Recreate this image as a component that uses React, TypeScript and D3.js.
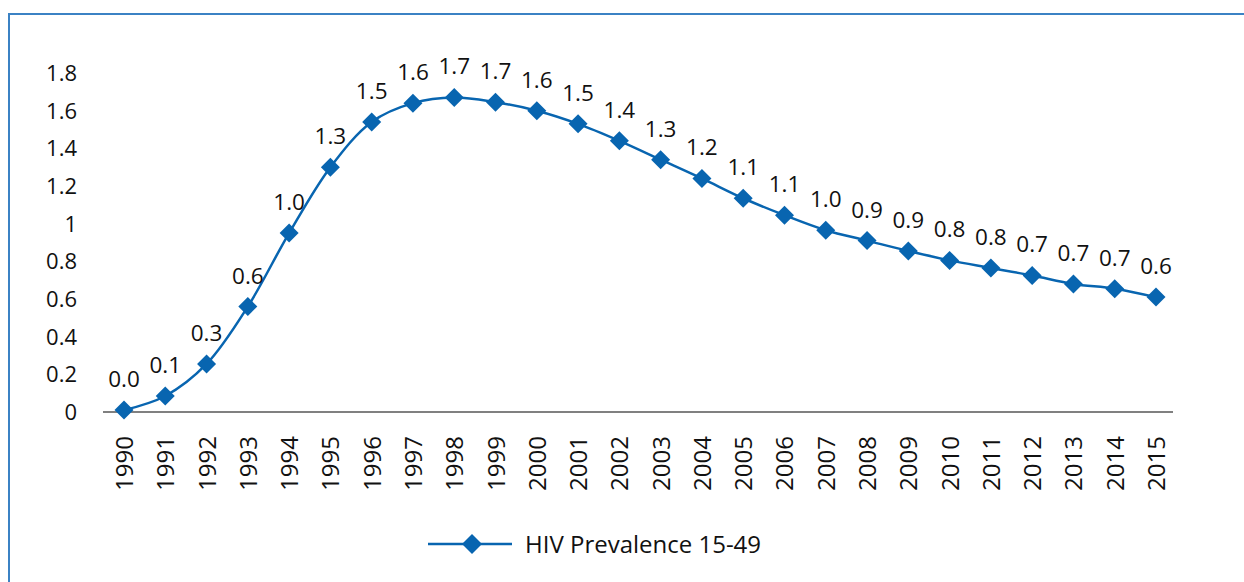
import React, { useEffect, useRef } from 'react';
import * as d3 from 'd3';

const years = ['1990','1991','1992','1993','1994','1995','1996','1997','1998','1999','2000','2001','2002','2003','2004','2005','2006','2007','2008','2009','2010','2011','2012','2013','2014','2015'];
const prevalence = [0.01,0.085,0.255,0.56,0.95,1.30,1.54,1.64,1.67,1.645,1.60,1.53,1.44,1.34,1.24,1.135,1.045,0.965,0.91,0.855,0.805,0.765,0.725,0.68,0.655,0.61];
const pointLabels = ['0.0','0.1','0.3','0.6','1.0','1.3','1.5','1.6','1.7','1.7','1.6','1.5','1.4','1.3','1.2','1.1','1.1','1.0','0.9','0.9','0.8','0.8','0.7','0.7','0.7','0.6'];
const yTicks = [0,0.2,0.4,0.6,0.8,1,1.2,1.4,1.6,1.8];
const seriesName = 'HIV Prevalence 15-49';

const W = 1244, H = 582;
const font = "'Open Sans', 'Noto Sans', sans-serif";
const blue = '#0865b0';

export default function App() {
  const ref = useRef<SVGSVGElement>(null);

  useEffect(() => {
    document.body.style.margin = '0';
    const svg = d3.select(ref.current);
    svg.selectAll('*').remove();

    // frame
    svg.append('rect')
      .attr('x', 9).attr('y', 14)
      .attr('width', W).attr('height', H)
      .attr('fill', 'none')
      .attr('stroke', '#3b82c4')
      .attr('stroke-width', 2);

    const x = d3.scalePoint<string>().domain(years).range([124, 1156]);
    const y = d3.scaleLinear().domain([0, 1.8]).range([412, 73]);

    // y tick labels
    svg.append('g').selectAll('text')
      .data(yTicks).enter().append('text')
      .attr('x', 77).attr('y', d => y(d) + 8)
      .attr('text-anchor', 'end')
      .attr('font-family', font).attr('font-size', 22)
      .attr('fill', '#111')
      .text(d => String(d));

    // x axis line
    svg.append('line')
      .attr('x1', 103).attr('x2', 1173)
      .attr('y1', y(0)).attr('y2', y(0))
      .attr('stroke', '#808080').attr('stroke-width', 2);

    // x labels rotated
    svg.append('g').selectAll('text')
      .data(years).enter().append('text')
      .attr('transform', d => `translate(${(x(d) as number) + 9},${436}) rotate(-90)`)
      .attr('text-anchor', 'end')
      .attr('font-family', font).attr('font-size', 24)
      .attr('fill', '#111')
      .text(d => d);

    // line
    const line = d3.line<number>()
      .x((d, i) => x(years[i]) as number)
      .y(d => y(d))
      .curve(d3.curveCatmullRom.alpha(0.5));

    svg.append('path')
      .datum(prevalence)
      .attr('d', line)
      .attr('fill', 'none')
      .attr('stroke', blue)
      .attr('stroke-width', 2.5);

    const diamond = (cx: number, cy: number, r: number) =>
      `M${cx},${cy - r}L${cx + r},${cy}L${cx},${cy + r}L${cx - r},${cy}Z`;

    svg.append('g').selectAll('path')
      .data(prevalence).enter().append('path')
      .attr('d', (d, i) => diamond(x(years[i]) as number, y(d), 9.5))
      .attr('fill', blue);

    // data labels
    svg.append('g').selectAll('text')
      .data(prevalence).enter().append('text')
      .attr('x', (d, i) => x(years[i]) as number)
      .attr('y', d => y(d) - 23)
      .attr('text-anchor', 'middle')
      .attr('font-family', font).attr('font-size', 22.5)
      .attr('fill', '#111')
      .text((d, i) => pointLabels[i]);

    // legend
    const lg = svg.append('g');
    lg.append('line')
      .attr('x1', 428).attr('x2', 512).attr('y1', 544).attr('y2', 544)
      .attr('stroke', blue).attr('stroke-width', 2.5);
    lg.append('path').attr('d', diamond(472, 544, 10)).attr('fill', blue);
    lg.append('text')
      .attr('x', 525).attr('y', 553)
      .attr('font-family', font).attr('font-size', 24)
      .attr('fill', '#111')
      .text(seriesName);
  }, []);

  return <svg ref={ref} width={W} height={H} style={{ display: 'block', background: '#fff' }} />;
}
